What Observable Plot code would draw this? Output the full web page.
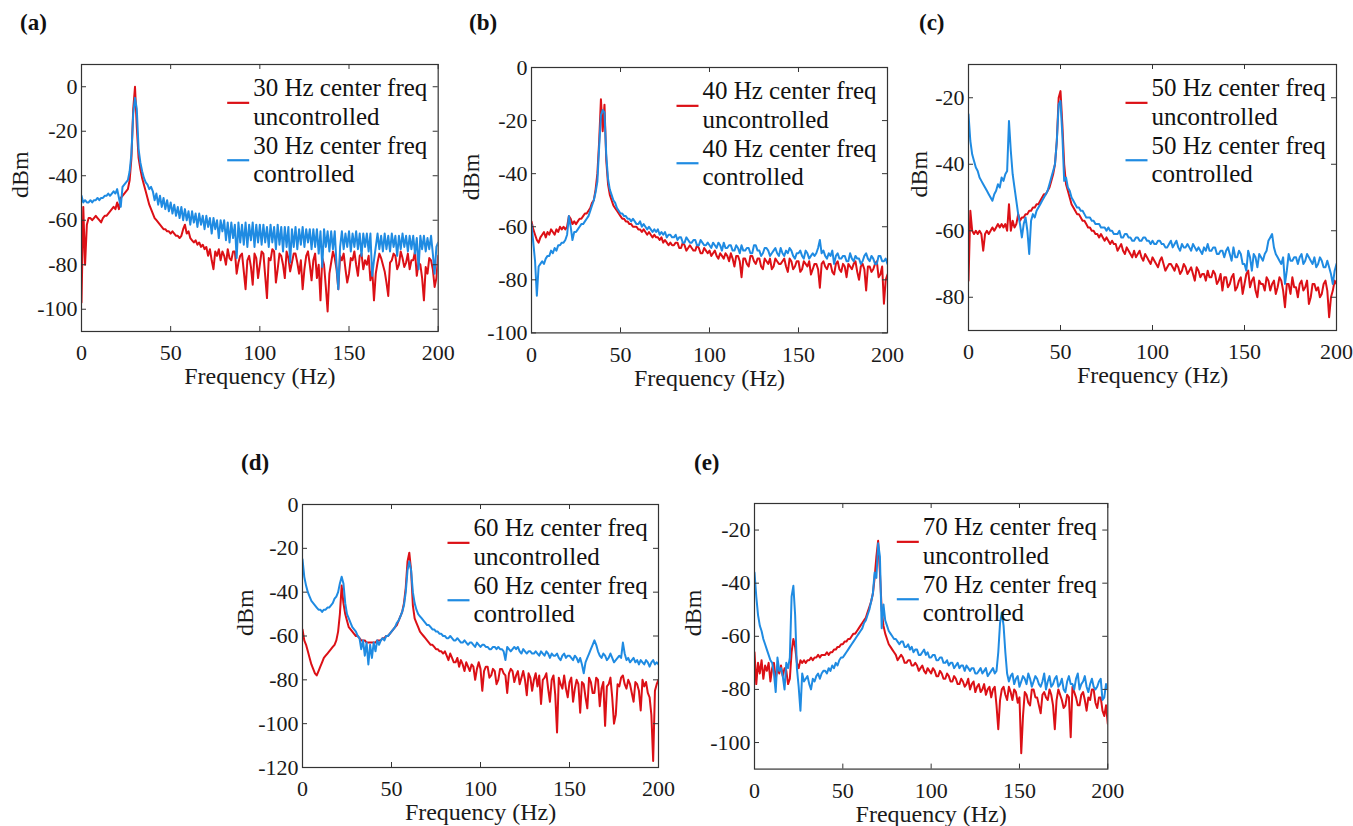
<!DOCTYPE html>
<html><head><meta charset="utf-8">
<script src="https://cdn.jsdelivr.net/npm/d3@7"></script>
<script src="https://cdn.jsdelivr.net/npm/@observablehq/plot@0.6"></script>
<style>
html,body{margin:0;padding:0;background:#fff;overflow:hidden;}
#root{position:relative;width:1353px;height:826px;background:#fff;}
.panel{position:absolute;}
.plabel{position:absolute;font-family:"Liberation Serif","Times New Roman",serif;font-weight:bold;font-size:23px;line-height:23px;color:#111;}
</style></head>
<body><div id="root"></div>
<script>
// ---------- DATA ----------
// frequency bins (Hz)
const freq = [
  0,1,2,3,4,5,6,7,8,9,
  10,11,12,13,14,15,16,17,18,19,
  20,21,22,23,24,25,26,27,28,29,
  30,31,32,33,34,35,36,37,38,39,
  40,41,42,43,44,45,46,47,48,49,
  50,51,52,53,54,55,56,57,58,59,
  60,61,62,63,64,65,66,67,68,69,
  70,71,72,73,74,75,76,77,78,79,
  80,81,82,83,84,85,86,87,88,89,
  90,91,92,93,94,95,96,97,98,99,
  100,101,102,103,104,105,106,107,108,109,
  110,111,112,113,114,115,116,117,118,119,
  120,121,122,123,124,125,126,127,128,129,
  130,131,132,133,134,135,136,137,138,139,
  140,141,142,143,144,145,146,147,148,149,
  150,151,152,153,154,155,156,157,158,159,
  160,161,162,163,164,165,166,167,168,169,
  170,171,172,173,174,175,176,177,178,179,
  180,181,182,183,184,185,186,187,188,189,
  190,191,192,193,194,195,196,197,198,199,
  200
];
const xTicks = [0, 50, 100, 150, 200];
const panelLetters = ["(a)", "(b)", "(c)", "(d)", "(e)"];
const centerFreqs = [30, 40, 50, 60, 70];
const yDomainA = [-110, 10], yTicksA = [-100, -80, -60, -40, -20, 0];
const yDomainB = [-100, 0],  yTicksB = [-100, -80, -60, -40, -20, 0];
const yDomainC = [-90, -10], yTicksC = [-80, -60, -40, -20];
const yDomainD = [-120, 0],  yTicksD = [-120, -100, -80, -60, -40, -20, 0];
const yDomainE = [-110, -10], yTicksE = [-100, -80, -60, -40, -20];
const seriesNames = ["uncontrolled", "controlled"];

// (a) 30 Hz
const uncontrolledA = [
  -97,-54,-80,-62,-59,-59,-60,-59,-58,-59,
  -60,-61,-59,-58,-58,-57,-56,-55,-54,-55,
  -52,-55,-50,-49,-48,-47,-46,-42,-32,-10,
  0,-18,-32,-37,-41,-44,-47,-50,-53,-55,
  -57,-59,-60,-61,-62,-63,-64,-64,-65,-65,
  -66,-65,-66,-67,-67,-68,-67,-64,-62,-66,
  -65,-68,-69,-70,-69,-71,-70,-72,-71,-73,
  -72,-76,-73,-78,-82,-74,-76,-73,-78,-74,
  -76,-80,-73,-77,-78,-74,-74,-84,-79,-76,
  -75,-83,-91,-78,-76,-81,-89,-75,-77,-86,
  -80,-74,-75,-85,-95,-77,-78,-73,-74,-88,
  -82,-75,-76,-80,-86,-74,-77,-83,-79,-75,
  -75,-79,-84,-78,-91,-82,-76,-74,-80,-87,
  -78,-75,-86,-80,-96,-77,-80,-90,-101,-84,
  -79,-74,-77,-82,-91,-76,-78,-75,-82,-88,
  -84,-77,-78,-74,-80,-85,-76,-75,-82,-78,
  -80,-76,-87,-82,-96,-84,-79,-75,-77,-80,
  -83,-88,-94,-79,-78,-75,-76,-82,-80,-74,
  -77,-81,-79,-75,-82,-78,-78,-74,-85,-79,
  -80,-86,-96,-81,-84,-77,-78,-82,-90,-86,
  -76
];
const controlledA = [
  -49,-52,-51,-52,-52,-51,-52,-51,-51,-50,
  -51,-50,-50,-49,-49,-48,-49,-48,-47,-48,
  -46,-50,-54,-45,-44,-43,-42,-38,-30,-12,
  -5,-10,-28,-34,-38,-41,-43,-44,-46,-45,
  -47,-51,-48,-53,-49,-54,-50,-55,-51,-56,
  -52,-57,-53,-58,-54,-59,-54,-60,-55,-60,
  -56,-62,-56,-61,-57,-63,-57,-62,-58,-64,
  -58,-63,-59,-66,-59,-64,-60,-68,-60,-65,
  -60,-69,-61,-70,-61,-68,-62,-77,-61,-70,
  -62,-71,-61,-72,-62,-69,-61,-72,-62,-70,
  -62,-71,-62,-70,-63,-72,-62,-70,-63,-73,
  -62,-71,-63,-74,-63,-72,-63,-79,-64,-72,
  -63,-73,-64,-71,-63,-72,-64,-70,-64,-73,
  -64,-72,-64,-75,-65,-81,-64,-72,-65,-74,
  -65,-73,-65,-80,-91,-72,-65,-73,-66,-72,
  -65,-74,-66,-72,-65,-73,-66,-76,-66,-72,
  -66,-74,-66,-85,-78,-72,-66,-73,-67,-74,
  -66,-73,-67,-74,-66,-72,-67,-76,-67,-73,
  -66,-72,-67,-74,-67,-73,-67,-75,-68,-82,
  -67,-73,-67,-74,-68,-73,-67,-75,-84,-72,
  -70
];

// (b) 40 Hz
const uncontrolledB = [
  -58,-61,-63,-65,-66,-64,-63,-62,-64,-62,
  -63,-61,-62,-63,-61,-62,-60,-61,-60,-61,
  -60,-56,-57,-59,-58,-59,-58,-57,-57,-56,
  -55,-55,-54,-53,-51,-50,-46,-40,-28,-12,
  -24,-14,-35,-44,-48,-50,-52,-53,-54,-55,
  -56,-57,-57,-58,-58,-59,-59,-60,-60,-60,
  -61,-61,-62,-61,-62,-63,-62,-63,-64,-63,
  -64,-64,-65,-64,-66,-65,-66,-67,-66,-67,
  -67,-66,-66,-68,-68,-66,-67,-69,-68,-67,
  -68,-69,-69,-67,-68,-70,-70,-68,-69,-70,
  -69,-71,-70,-69,-71,-72,-70,-71,-72,-70,
  -71,-73,-70,-72,-75,-71,-71,-73,-79,-72,
  -72,-74,-75,-71,-71,-73,-74,-72,-72,-75,
  -76,-72,-73,-74,-72,-76,-75,-72,-73,-74,
  -74,-73,-72,-75,-77,-72,-73,-76,-75,-73,
  -73,-77,-76,-73,-74,-75,-73,-78,-76,-74,
  -74,-76,-83,-74,-73,-75,-76,-74,-74,-77,
  -78,-74,-73,-76,-77,-74,-75,-79,-74,-75,
  -76,-74,-73,-77,-80,-75,-74,-76,-84,-75,
  -75,-77,-76,-74,-73,-79,-78,-75,-89,-80,
  -78
];
const controlledB = [
  -59,-66,-73,-86,-75,-74,-73,-74,-72,-71,
  -71,-69,-70,-68,-69,-67,-67,-66,-66,-65,
  -63,-56,-60,-65,-62,-62,-61,-60,-59,-59,
  -58,-57,-56,-54,-52,-50,-47,-43,-30,-18,
  -16,-17,-33,-42,-46,-48,-50,-51,-53,-54,
  -55,-55,-56,-56,-57,-57,-58,-57,-58,-59,
  -59,-58,-60,-59,-60,-61,-60,-61,-62,-61,
  -62,-61,-63,-62,-63,-62,-64,-63,-63,-64,
  -64,-63,-65,-64,-64,-66,-66,-64,-65,-66,
  -66,-65,-65,-67,-67,-65,-66,-67,-67,-66,
  -67,-68,-66,-67,-68,-66,-67,-69,-66,-68,
  -68,-67,-67,-69,-69,-67,-68,-70,-67,-69,
  -69,-68,-68,-70,-70,-67,-67,-69,-69,-71,
  -70,-68,-68,-69,-71,-70,-69,-68,-70,-71,
  -68,-70,-71,-69,-70,-68,-69,-71,-72,-70,
  -70,-69,-71,-72,-69,-70,-72,-71,-70,-71,
  -70,-68,-65,-70,-69,-71,-72,-70,-71,-69,
  -74,-71,-70,-72,-72,-71,-71,-73,-73,-70,
  -72,-73,-71,-72,-72,-74,-73,-71,-70,-72,
  -73,-71,-72,-74,-74,-71,-71,-73,-73,-72,
  -74
];

// (c) 50 Hz
const uncontrolledC = [
  -75,-54,-60,-61,-60,-61,-60,-61,-66,-61,
  -60,-61,-60,-59,-60,-59,-58,-59,-58,-59,
  -58,-60,-52,-60,-57,-59,-58,-55,-57,-56,
  -56,-55,-55,-54,-54,-53,-53,-52,-52,-51,
  -50,-49,-49,-48,-47,-45,-43,-40,-33,-20,
  -18,-28,-40,-46,-48,-50,-52,-53,-54,-55,
  -55,-56,-57,-57,-58,-59,-59,-60,-60,-61,
  -61,-62,-61,-62,-63,-62,-63,-64,-63,-64,
  -64,-66,-65,-64,-66,-67,-65,-66,-67,-68,
  -66,-68,-67,-66,-68,-69,-67,-68,-69,-70,
  -68,-69,-70,-71,-69,-68,-70,-72,-71,-70,
  -70,-71,-72,-70,-71,-73,-72,-70,-71,-73,
  -72,-71,-73,-75,-71,-72,-74,-73,-73,-75,
  -72,-74,-74,-72,-73,-76,-75,-73,-78,-74,
  -74,-77,-76,-74,-73,-78,-77,-75,-74,-79,
  -76,-73,-72,-77,-75,-74,-78,-80,-75,-76,
  -76,-78,-74,-75,-78,-76,-75,-79,-77,-74,
  -75,-78,-83,-76,-76,-79,-74,-77,-77,-80,
  -76,-75,-78,-77,-75,-82,-80,-76,-76,-78,
  -77,-80,-79,-76,-75,-78,-86,-80,-78,-75,
  -76
];
const controlledC = [
  -25,-33,-37,-39,-41,-42,-44,-45,-46,-47,
  -48,-49,-50,-51,-49,-48,-46,-47,-44,-45,
  -43,-42,-27,-36,-43,-47,-51,-55,-58,-62,
  -58,-56,-60,-67,-57,-55,-56,-54,-53,-52,
  -51,-50,-49,-48,-46,-44,-42,-40,-33,-22,
  -21,-31,-45,-44,-47,-48,-50,-51,-52,-53,
  -53,-54,-54,-55,-56,-56,-56,-57,-57,-58,
  -58,-58,-59,-59,-59,-60,-59,-60,-60,-61,
  -61,-61,-60,-62,-62,-61,-61,-62,-62,-63,
  -63,-62,-62,-63,-63,-62,-62,-63,-63,-64,
  -63,-64,-64,-63,-63,-64,-64,-65,-65,-64,
  -63,-65,-64,-63,-65,-66,-64,-65,-65,-64,
  -65,-66,-64,-65,-66,-65,-66,-67,-65,-66,
  -64,-66,-66,-65,-65,-67,-67,-66,-66,-68,
  -66,-65,-67,-69,-65,-68,-68,-66,-67,-70,
  -70,-72,-66,-68,-72,-67,-68,-71,-67,-68,
  -69,-67,-66,-63,-62,-61,-65,-67,-68,-69,
  -70,-68,-76,-72,-67,-69,-69,-68,-68,-70,
  -68,-67,-70,-69,-67,-68,-69,-70,-68,-71,
  -70,-68,-69,-71,-71,-69,-71,-73,-76,-72,
  -70
];

// (d) 60 Hz
const uncontrolledD = [
  -57,-62,-64,-67,-70,-73,-75,-77,-78,-76,
  -74,-72,-70,-69,-68,-67,-66,-65,-64,-62,
  -58,-50,-37,-45,-50,-53,-56,-57,-58,-59,
  -60,-60,-61,-62,-62,-62,-63,-63,-63,-63,
  -63,-63,-62,-62,-62,-61,-61,-60,-60,-59,
  -58,-57,-56,-55,-53,-51,-49,-45,-38,-26,
  -22,-30,-46,-52,-54,-56,-58,-59,-60,-61,
  -62,-63,-64,-64,-65,-66,-66,-67,-67,-68,
  -67,-69,-71,-68,-70,-72,-72,-70,-74,-71,
  -73,-76,-72,-74,-76,-73,-74,-80,-75,-72,
  -75,-85,-76,-74,-74,-79,-78,-75,-76,-82,
  -80,-75,-75,-77,-78,-86,-77,-75,-76,-81,
  -78,-76,-82,-79,-76,-80,-87,-77,-79,-85,
  -80,-77,-83,-78,-91,-80,-79,-77,-84,-90,
  -80,-78,-87,-104,-79,-82,-84,-78,-84,-88,
  -81,-79,-90,-84,-80,-82,-95,-81,-82,-88,
  -93,-79,-81,-86,-86,-79,-80,-92,-84,-81,
  -101,-83,-82,-79,-88,-100,-96,-82,-83,-79,
  -78,-82,-84,-80,-82,-86,-90,-81,-82,-85,
  -94,-80,-83,-81,-86,-88,-96,-117,-85,-82,
  -80
];
const controlledD = [
  -25,-33,-37,-40,-42,-44,-45,-46,-47,-48,
  -48,-49,-48,-48,-47,-47,-46,-45,-43,-42,
  -40,-36,-33,-36,-45,-50,-52,-54,-56,-57,
  -58,-60,-61,-66,-62,-69,-63,-73,-64,-70,
  -63,-67,-62,-64,-62,-61,-62,-60,-60,-59,
  -58,-57,-56,-54,-53,-51,-49,-46,-40,-30,
  -26,-30,-40,-45,-48,-50,-51,-52,-53,-54,
  -55,-55,-56,-57,-57,-58,-58,-59,-59,-60,
  -60,-61,-61,-60,-61,-62,-62,-61,-62,-63,
  -63,-62,-63,-64,-63,-63,-64,-65,-63,-64,
  -65,-64,-64,-65,-65,-66,-66,-65,-65,-66,
  -65,-66,-66,-67,-71,-65,-66,-67,-66,-65,
  -66,-65,-67,-68,-66,-67,-68,-67,-67,-68,
  -68,-67,-68,-69,-67,-68,-69,-67,-68,-70,
  -68,-69,-69,-68,-70,-71,-69,-68,-70,-69,
  -69,-70,-71,-69,-70,-72,-70,-73,-77,-72,
  -70,-68,-66,-64,-62,-64,-67,-69,-70,-68,
  -69,-71,-70,-68,-70,-72,-71,-70,-69,-70,
  -63,-68,-71,-70,-72,-71,-70,-72,-71,-73,
  -71,-72,-73,-71,-72,-74,-72,-71,-73,-72,
  -73
];

// (e) 70 Hz
const uncontrolledE = [
  -66,-78,-70,-74,-69,-76,-71,-73,-70,-77,
  -72,-70,-76,-72,-74,-71,-75,-72,-73,-78,
  -76,-66,-61,-64,-70,-72,-69,-70,-69,-70,
  -69,-69,-68,-69,-68,-68,-67,-68,-67,-67,
  -67,-66,-67,-66,-66,-65,-65,-64,-64,-63,
  -63,-62,-62,-61,-61,-60,-59,-59,-58,-57,
  -56,-55,-54,-53,-51,-49,-47,-44,-38,-30,
  -24,-36,-50,-56,-59,-61,-63,-64,-65,-66,
  -67,-69,-68,-67,-68,-70,-70,-69,-69,-71,
  -71,-70,-71,-73,-72,-71,-73,-74,-72,-73,
  -74,-72,-73,-75,-75,-73,-74,-76,-76,-74,
  -75,-77,-77,-75,-76,-78,-78,-76,-77,-79,
  -78,-76,-80,-78,-77,-81,-79,-78,-81,-80,
  -78,-82,-80,-79,-83,-80,-79,-86,-95,-84,
  -80,-79,-82,-84,-79,-81,-84,-80,-81,-85,
  -83,-104,-90,-81,-82,-85,-86,-80,-80,-83,
  -83,-86,-89,-82,-81,-83,-84,-80,-82,-86,
  -95,-84,-80,-82,-84,-87,-86,-82,-83,-98,
  -79,-81,-83,-86,-86,-82,-81,-84,-88,-83,
  -84,-80,-80,-85,-87,-83,-83,-88,-90,-86,
  -93
];
const controlledE = [
  -36,-45,-52,-56,-58,-61,-63,-65,-67,-69,
  -70,-74,-81,-68,-73,-72,-75,-80,-70,-72,
  -68,-45,-41,-52,-72,-79,-88,-74,-77,-76,
  -75,-78,-80,-76,-77,-75,-74,-76,-74,-73,
  -73,-74,-72,-73,-71,-72,-70,-71,-69,-68,
  -68,-67,-66,-65,-64,-63,-62,-61,-60,-59,
  -58,-57,-55,-54,-52,-50,-47,-44,-36,-38,
  -25,-30,-57,-48,-54,-56,-58,-59,-60,-61,
  -61,-62,-63,-62,-62,-64,-64,-63,-65,-64,
  -66,-65,-65,-67,-67,-66,-65,-67,-66,-68,
  -68,-67,-67,-69,-69,-68,-68,-70,-70,-69,
  -71,-70,-70,-72,-71,-70,-72,-71,-71,-73,
  -71,-72,-73,-72,-72,-74,-74,-73,-72,-74,
  -73,-72,-75,-74,-73,-72,-74,-73,-66,-55,
  -51,-56,-66,-74,-77,-75,-74,-78,-76,-75,
  -79,-77,-75,-76,-78,-74,-76,-79,-77,-75,
  -76,-78,-79,-77,-74,-80,-77,-75,-79,-78,
  -76,-75,-79,-78,-76,-80,-81,-77,-75,-78,
  -78,-80,-76,-74,-80,-78,-77,-75,-79,-81,
  -78,-76,-79,-80,-79,-77,-76,-84,-83,-78,
  -80
];

// ---------- LAYOUT / STYLE ----------
const RED = "#dc1016", BLUE = "#1f8be2";
const FONT = '"Liberation Serif", "Times New Roman", serif';
const layout = [
  {L: 81,    T: 64,    W: 356.7, H: 267,   ylabDx: -61.5, lx: 20,  ly: 11},
  {L: 530.7, T: 67.3,  W: 356,   H: 265.4, ylabDx: -60,   lx: 469, ly: 11},
  {L: 967.7, T: 64,    W: 368,   H: 266,   ylabDx: -48.7, lx: 919, ly: 11},
  {L: 302.3, T: 504.3, W: 356,   H: 263,   ylabDx: -57,   lx: 241, ly: 451},
  {L: 754,   T: 502.7, W: 353.3, H: 265.6, ylabDx: -60.7, lx: 694, ly: 451}
];
const panels = [
  [uncontrolledA, controlledA, yDomainA, yTicksA],
  [uncontrolledB, controlledB, yDomainB, yTicksB],
  [uncontrolledC, controlledC, yDomainC, yTicksC],
  [uncontrolledD, controlledD, yDomainD, yTicksD],
  [uncontrolledE, controlledE, yDomainE, yTicksE]
];

const root = document.getElementById("root");
const mL = 90, mR = 17, mT = 10, mB = 60;

panels.forEach(([red, blue, yDomain, yTicks], p) => {
  const lay = layout[p];
  const hz = centerFreqs[p];
  if (red.length !== freq.length || blue.length !== freq.length)
    console.warn("length mismatch in panel", p, red.length, blue.length, freq.length);
  const n = Math.min(freq.length, red.length, blue.length);
  const rows = [];
  for (let i = 0; i < n; i++) rows.push({f: freq[i], v: red[i], s: seriesNames[0]});
  for (let i = 0; i < n; i++) rows.push({f: freq[i], v: blue[i], s: seriesNames[1]});
  const legend = (index, scales, values, dims) => {
    const g = d3.create("svg:g")
      .attr("font-family", FONT).attr("font-size", 25).attr("fill", "#111")
      .attr("text-anchor", "start");
    const x0 = dims.width - dims.marginRight - 184.5;
    const y0 = dims.marginTop + 23.5;
    const step = 28.7;
    const texts = [`${hz} Hz center freq`, seriesNames[0], `${hz} Hz center freq`, seriesNames[1]];
    texts.forEach((t, i) => {
      g.append("text").attr("x", x0).attr("y", y0 + i * step).attr("dy", "0.35em").text(t);
    });
    [[RED, y0 + step / 2 + 1], [BLUE, y0 + 2.5 * step + 1]].forEach(([c, y]) => {
      g.append("line").attr("x1", x0 - 26).attr("x2", x0 - 4).attr("y1", y).attr("y2", y)
        .attr("stroke", c).attr("stroke-width", 2.2);
    });
    return g.node();
  };
  const chart = Plot.plot({
    width: mL + lay.W + mR,
    height: mT + lay.H + mB,
    marginLeft: mL, marginRight: mR, marginTop: mT, marginBottom: mB,
    style: {fontFamily: FONT, fontSize: "22px", color: "#1a1a1a", background: "transparent", overflow: "visible"},
    x: {domain: [0, 200]},
    y: {domain: yDomain},
    color: {domain: seriesNames, range: [RED, BLUE]},
    marks: [
      Plot.line(rows, {x: "f", y: "v", z: "s", stroke: "s", strokeWidth: 2, clip: true}),
      Plot.tickX(xTicks, {x: d => d, insetTop: lay.H - 5, stroke: "#333"}),
      Plot.tickX(xTicks, {x: d => d, insetBottom: lay.H - 5, stroke: "#333"}),
      Plot.tickY(yTicks, {y: d => d, insetRight: lay.W - 5, stroke: "#333"}),
      Plot.tickY(yTicks, {y: d => d, insetLeft: lay.W - 5, stroke: "#333"}),
      Plot.frame({stroke: "#333", strokeWidth: 1.2}),
      Plot.axisX({ticks: xTicks, anchor: "bottom", tickSize: 0, tickPadding: 13, label: null, tickFormat: d => String(d), fill: "#1a1a1a"}),
      Plot.axisY({ticks: yTicks, anchor: "left", tickSize: 0, tickPadding: 4, label: null, tickFormat: d => String(d), fill: "#1a1a1a"}),
      Plot.text(["Frequency (Hz)"], {text: d => d, frameAnchor: "bottom", dy: 45, lineAnchor: "middle", fontSize: 24, fill: "#1a1a1a"}),
      Plot.text(["dBm"], {text: d => d, frameAnchor: "left", dx: lay.ylabDx, rotate: -90, lineAnchor: "middle", fontSize: 24, fill: "#1a1a1a"}),
      legend
    ]
  });
  chart.classList.add("panel");
  chart.style.left = (lay.L - mL) + "px";
  chart.style.top = (lay.T - mT) + "px";
  root.appendChild(chart);

  const lab = document.createElement("div");
  lab.className = "plabel";
  lab.style.left = lay.lx + "px";
  lab.style.top = lay.ly + "px";
  lab.textContent = panelLetters[p];
  root.appendChild(lab);
});
</script>
</body></html>
